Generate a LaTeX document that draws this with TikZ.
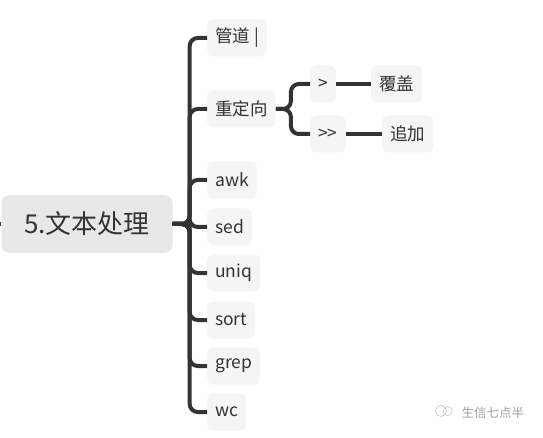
\documentclass[tikz,border=0pt]{standalone}
\usepackage{fontspec}
\setmainfont{Noto Sans CJK SC}
\usepackage{xcolor}
\usetikzlibrary{positioning}
\definecolor{lineGray}{HTML}{333333}
\definecolor{boxGray}{HTML}{F5F5F5}
\definecolor{rootGray}{HTML}{E8E8E8}
\definecolor{markGray}{HTML}{A0A0A0}

\begin{document}
\begin{tikzpicture}[x=1pt,y=-1pt,
  topic/.style={fill=rootGray,rounded corners=8pt,minimum width=171pt,minimum height=58pt,text=lineGray,font=\fontsize{26}{28}\selectfont},
  item/.style={fill=boxGray,rounded corners=6pt,anchor=west,inner xsep=8pt,minimum height=37pt,text=lineGray,font=\fontsize{17.5}{19}\selectfont},
  link/.style={draw=lineGray,line width=4pt,rounded corners=8pt}]
\useasboundingbox (0,0) rectangle (543,438);
\node[topic] (root) at (87,224) {5.文本处理};
\node[item] (pipe) at (207,38) {管道 |};
\node[item] (redir) at (207,109) {重定向};
\node[item] (awk) at (207,180) {awk};
\node[item] (sed) at (207,227) {sed};
\node[item] (uniq) at (207,273) {uniq};
\node[item] (sort) at (207,320) {sort};
\node[item] (grep) at (207,366) {grep};
\node[item] (wc) at (207,412) {wc};
\node[item] (gt) at (310,84) {>};
\node[item] (gtgt) at (310,134) {>{}>};
\node[item] (cover) at (371,84) {覆盖};
\node[item] (append) at (382,134) {追加};
\coordinate (stub) at (-3,224);
\draw[link] (stub) -- (root.west);
\foreach \n in {pipe,redir,awk,sed,uniq,sort,grep,wc}
  \draw[link] (root.east) -- ++(17,0) |- (\n.west);
\foreach \n in {gt,gtgt}
  \draw[link] (redir.east) -- ++(15,0) |- (\n.west);
\draw[link] (gt.east) -- (cover.west);
\draw[link] (gtgt.east) -- (append.west);
\node[circle,draw=markGray!60,line width=0.6pt,minimum size=11pt,inner sep=0pt] (logoA) at (441,411) {};
\node[circle,draw=markGray!60,line width=0.6pt,minimum size=9pt,inner sep=0pt,right=-4pt of logoA] (logoB) {};
\node[text=markGray,font=\fontsize{12.5}{14}\selectfont,anchor=west] (mark) at (458,413) {生信七点半};
\end{tikzpicture}
\end{document}
